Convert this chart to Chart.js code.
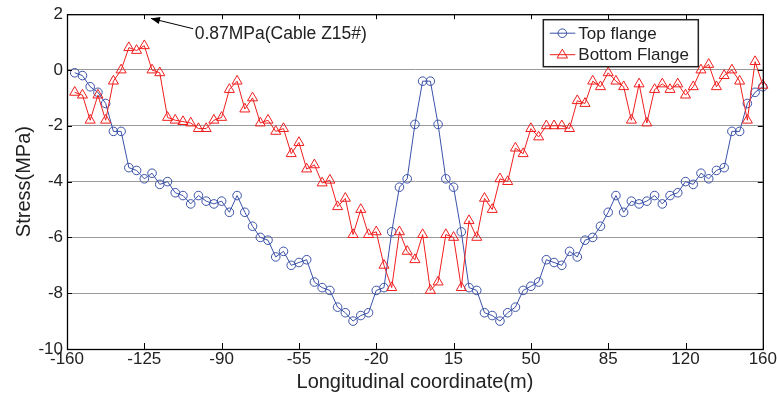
<!DOCTYPE html>
<html><head><meta charset="utf-8">
<script src="https://cdn.jsdelivr.net/npm/chart.js@4"></script>
<style>html,body{margin:0;padding:0;background:#fff;}#wrap{width:777px;height:396px;position:relative;}</style>
</head><body><div id="wrap"><canvas id="c" width="777" height="396"></canvas></div>
<script>
// ---- data ----
const xPositions = [-156.5,-153,-149.5,-146,-142.5,-139,-135.5,-132,-128.5,-125,
  -121.5,-118,-114.5,-111,-107.5,-104,-100.5,-97,-93.5,-90,
  -86.5,-83,-79.5,-76,-72.5,-69,-65.5,-62,-58.5,-55,
  -51.5,-48,-44.5,-41,-37.5,-34,-30.5,-27,-23.5,-20,
  -16.5,-13,-9.5,-6,-2.5,1,4.5,8,11.5,15,
  18.5,22,25.5,29,32.5,36,39.5,43,46.5,50,
  53.5,57,60.5,64,67.5,71,74.5,78,81.5,85,
  88.5,92,95.5,99,102.5,106,109.5,113,116.5,120,
  123.5,127,130.5,134,137.5,141,144.5,148,151.5,155];
const topFlange = [-0.1,-0.2,-0.6,-0.8,-1.2,-2.2,-2.2,-3.5,-3.6,-3.9,
  -3.7,-4.1,-4.0,-4.4,-4.5,-4.8,-4.5,-4.7,-4.8,-4.7,
  -5.1,-4.5,-5.1,-5.6,-6.0,-6.1,-6.7,-6.5,-7.0,-6.9,
  -6.8,-7.6,-7.8,-7.9,-8.5,-8.7,-9.0,-8.8,-8.7,-7.9,
  -7.8,-5.8,-4.2,-3.9,-1.95,-0.4,-0.4,-1.95,-3.9,-4.2,
  -5.8,-7.8,-7.9,-8.7,-8.8,-9.0,-8.7,-8.5,-7.9,-7.75,
  -7.6,-6.8,-6.9,-7.0,-6.5,-6.7,-6.1,-6.0,-5.6,-5.1,
  -4.5,-5.1,-4.7,-4.8,-4.7,-4.5,-4.8,-4.5,-4.4,-4.0,
  -4.1,-3.7,-3.9,-3.6,-3.5,-2.2,-2.2,-1.2,-0.8,-0.6];
const bottomFlange = [-0.8,-0.9,-1.8,-0.9,-1.8,-0.4,0.0,0.8,0.7,0.87,
  0.0,-0.1,-1.7,-1.8,-1.85,-1.9,-2.1,-2.1,-1.8,-1.7,
  -0.7,-0.4,-1.4,-1.0,-1.9,-1.8,-2.2,-2.1,-3.0,-2.6,
  -3.55,-3.4,-4.05,-3.95,-4.9,-4.6,-5.9,-5.0,-5.9,-5.8,
  -7.0,-7.8,-5.8,-6.5,-6.8,-5.9,-7.9,-7.6,-5.9,-6.0,
  -7.8,-5.4,-6.0,-4.6,-5.0,-3.9,-4.0,-2.8,-3.0,-2.1,
  -2.4,-2.0,-2.0,-2.0,-2.1,-1.1,-1.2,-0.4,-0.6,-0.1,
  -0.4,-0.6,-1.8,-0.5,-1.9,-0.7,-0.5,-0.7,-0.5,-0.9,
  -0.6,0.0,0.2,-0.6,-0.2,0.0,-0.4,-1.8,0.3,-0.55];
const xTickValues = [-160,-125,-90,-55,-20,15,50,85,120,155];
const xTickLabels = ['-160','-125','-90','-55','-20','15','50','85','120','160'];
const yTickValues = [2,0,-2,-4,-6,-8,-10];
const seriesNames = ['Top flange','Bottom Flange'];
const xTitle = 'Longitudinal coordinate(m)';
const yTitle = 'Stress(MPa)';
const noteText = '0.87MPa(Cable Z15#)';
const noteTip = [-122, 1.85];
const noteTail = [-102.9, 1.48];
const noteTextPos = [-102.2, 1.3];

const FONT = '"Liberation Sans", Arial, Helvetica, sans-serif';
const BLUE = '#3b52a8';
const RED = '#f01e1e';

const toPts = (ys) => ys.map((v, i) => ({x: xPositions[i], y: v}));

const decorPlugin = {
  id: 'decor',
  afterDraw(chart) {
    const {ctx, chartArea: a, scales: {x, y}} = chart;
    ctx.save();
    ctx.strokeStyle = '#000';
    ctx.lineWidth = 1;
    ctx.beginPath();
    xTickValues.forEach(v => {
      const px = Math.round(x.getPixelForValue(v)) + 0.5;
      ctx.moveTo(px, a.bottom); ctx.lineTo(px, a.bottom - 6);
      ctx.moveTo(px, a.top); ctx.lineTo(px, a.top + 5);
    });
    yTickValues.forEach(v => {
      const py = Math.round(y.getPixelForValue(v)) + 0.5;
      ctx.moveTo(a.left, py); ctx.lineTo(a.left + 5, py);
      ctx.moveTo(a.right, py); ctx.lineTo(a.right - 5, py);
    });
    ctx.stroke();
    ctx.lineWidth = 1.3;
    ctx.strokeRect(a.left + 0.5, a.top + 0.5, a.right - a.left, a.bottom - a.top);

    const tx = x.getPixelForValue(noteTip[0]), ty = y.getPixelForValue(noteTip[1]);
    const sx = x.getPixelForValue(noteTail[0]), sy = y.getPixelForValue(noteTail[1]);
    ctx.lineWidth = 1;
    ctx.beginPath(); ctx.moveTo(sx, sy); ctx.lineTo(tx, ty); ctx.stroke();
    const ang = Math.atan2(ty - sy, tx - sx);
    const L = 9, W = 3.5;
    ctx.fillStyle = '#000';
    ctx.beginPath();
    ctx.moveTo(tx, ty);
    ctx.lineTo(tx - L * Math.cos(ang) + W * Math.sin(ang), ty - L * Math.sin(ang) - W * Math.cos(ang));
    ctx.lineTo(tx - L * Math.cos(ang) - W * Math.sin(ang), ty - L * Math.sin(ang) + W * Math.cos(ang));
    ctx.closePath(); ctx.fill();
    ctx.font = '17.5px ' + FONT;
    ctx.fillStyle = '#222';
    ctx.textAlign = 'left'; ctx.textBaseline = 'middle';
    ctx.fillText(noteText, x.getPixelForValue(noteTextPos[0]), y.getPixelForValue(noteTextPos[1]));

    const lx = a.right - 219.5, ly = a.top + 5.5, lw = 155, lh = 47;
    ctx.fillStyle = '#fff';
    ctx.fillRect(lx, ly, lw, lh);
    ctx.strokeStyle = '#222'; ctx.lineWidth = 1.5;
    ctx.strokeRect(lx, ly, lw, lh);
    chart.data.datasets.forEach((ds, i) => {
      const ry = ly + 13.5 + i * 21.5;
      ctx.strokeStyle = ds.borderColor; ctx.lineWidth = 1;
      ctx.beginPath(); ctx.moveTo(lx + 6.5, ry); ctx.lineTo(lx + 32, ry); ctx.stroke();
      const cx = lx + 19;
      ctx.beginPath();
      if (ds.pointStyle === 'triangle') {
        const r = 5.5;
        ctx.moveTo(cx, ry - r); ctx.lineTo(cx + r * 0.95, ry + r * 0.6); ctx.lineTo(cx - r * 0.95, ry + r * 0.6); ctx.closePath();
      } else {
        ctx.arc(cx, ry, 4.3, 0, Math.PI * 2);
      }
      ctx.stroke();
      ctx.fillStyle = '#222';
      ctx.font = '17px ' + FONT;
      ctx.textAlign = 'left'; ctx.textBaseline = 'middle';
      ctx.fillText(ds.label, lx + 35, ry + 1);
    });
    ctx.restore();
  }
};

new Chart(document.getElementById('c'), {
  type: 'scatter',
  data: {
    datasets: [
      {label: seriesNames[0], data: toPts(topFlange), showLine: true, borderColor: BLUE, backgroundColor: 'rgba(0,0,0,0)',
       borderWidth: 1, pointStyle: 'circle', pointRadius: 4.3, pointBorderWidth: 1, pointBorderColor: BLUE, pointBackgroundColor: 'rgba(0,0,0,0)', clip: false, order: 2},
      {label: seriesNames[1], data: toPts(bottomFlange), showLine: true, borderColor: RED, backgroundColor: 'rgba(0,0,0,0)',
       borderWidth: 1, pointStyle: 'triangle', pointRadius: 5.8, pointBorderWidth: 1, pointBorderColor: RED, pointBackgroundColor: 'rgba(0,0,0,0)', clip: false, order: 1}
    ]
  },
  options: {
    responsive: false,
    animation: false,
    devicePixelRatio: 1,
    layout: {padding: {top: 13, right: 14, left: 0, bottom: 0}},
    plugins: {legend: {display: false}, tooltip: {enabled: false}, title: {display: false}},
    elements: {line: {tension: 0}},
    scales: {
      x: {
        type: 'linear', position: 'bottom', min: -160, max: 155,
        afterBuildTicks: (s) => { s.ticks = xTickValues.map(v => ({value: v})); },
        afterFit: (s) => { s.height = 47; },
        ticks: {
          callback: (v, i) => xTickLabels[i],
          font: {family: FONT, size: 17}, color: '#222', padding: 0, maxRotation: 0, autoSkip: false
        },
        grid: {display: false, drawTicks: false},
        border: {display: true, color: '#000', width: 1},
        title: {display: true, text: xTitle, font: {family: FONT, size: 20}, color: '#222', padding: {top: 0, bottom: 2}}
      },
      y: {
        type: 'linear', position: 'left', min: -10, max: 2,
        afterBuildTicks: (s) => { s.ticks = yTickValues.map(v => ({value: v})); },
        afterFit: (s) => { s.width = 67; },
        ticks: {font: {family: FONT, size: 17}, color: '#222', padding: 4},
        grid: {display: true, drawTicks: false, color: '#9a9a9a', lineWidth: 1},
        border: {display: true, color: '#000', width: 1},
        title: {display: true, text: yTitle, font: {family: FONT, size: 20}, color: '#222', padding: {top: 12, bottom: 0}}
      }
    }
  },
  plugins: [decorPlugin]
});
</script>
</body></html>
